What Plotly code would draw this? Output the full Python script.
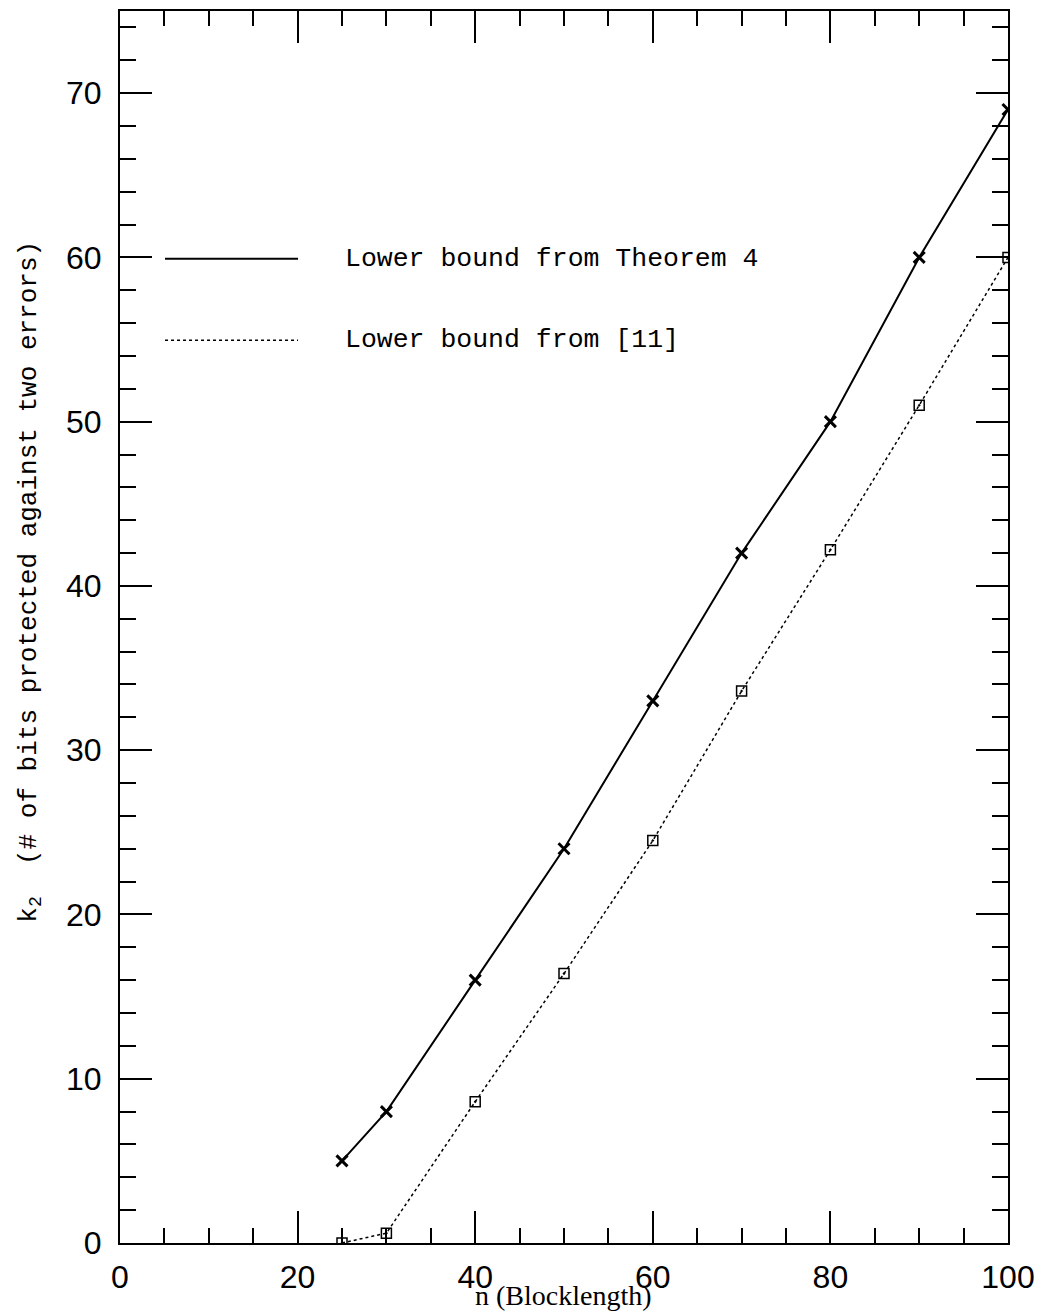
import plotly.graph_objects as go

# Data
n_vals = [25, 30, 40, 50, 60, 70, 80, 90, 100]
k2_theorem4 = [5, 8, 16, 24, 33, 42, 50, 60, 69]
k2_ref11 = [0, 0.6, 8.6, 16.4, 24.5, 33.6, 42.2, 51, 60]

x_tickvals = [0, 20, 40, 60, 80, 100]
y_tickvals = [0, 10, 20, 30, 40, 50, 60, 70]

legend_labels = ["Lower bound from Theorem 4", "Lower bound from [11]"]
x_title = "n&nbsp;(Blocklength)"
y_title = "k<sub>2</sub>&nbsp;&nbsp;(# of bits protected against two errors)"

fig = go.Figure()
fig.add_trace(go.Scatter(
    x=n_vals, y=k2_theorem4, mode="lines+markers",
    line=dict(color="black", width=2),
    marker=dict(symbol="x-thin-open", size=11, line=dict(color="black", width=3)),
    showlegend=False,
))
fig.add_trace(go.Scatter(
    x=n_vals, y=k2_ref11, mode="lines+markers",
    line=dict(color="black", width=1.5, dash="dot"),
    marker=dict(symbol="square-open-dot", size=10, color="black", line=dict(color="black", width=1.5)),
    showlegend=False,
))

# Legend drawn manually (long sample lines)
leg_x0, leg_x1, leg_tx = 0.0507, 0.2005, 0.251
leg_y = [0.799, 0.7328]
leg_dash = ["solid", "dot"]
leg_w = [2, 1.5]
for i, lab in enumerate(legend_labels):
    fig.add_shape(type="line", xref="paper", yref="paper",
                  x0=leg_x0, x1=leg_x1, y0=leg_y[i], y1=leg_y[i],
                  line=dict(color="black", width=leg_w[i], dash=leg_dash[i]))
    fig.add_annotation(xref="paper", yref="paper", x=leg_tx, y=leg_y[i],
                       text=lab, showarrow=False, xanchor="left", yanchor="middle",
                       font=dict(family="Liberation Mono", size=26.5, color="black"))

fig.add_annotation(xref="paper", yref="paper", x=0.499, y=-0.043,
                   text=x_title, showarrow=False, xanchor="center", yanchor="middle",
                   font=dict(family="Liberation Serif", size=28, color="black"))
fig.add_annotation(xref="paper", yref="paper", x=-0.101, y=0.537,
                   text=y_title, showarrow=False, textangle=-90,
                   xanchor="center", yanchor="middle",
                   font=dict(family="Liberation Mono", size=26, color="black"))

axis_common = dict(
    showgrid=False, zeroline=False, showline=True, linecolor="black", linewidth=2,
    mirror="ticks", ticks="inside", tickcolor="black", tickwidth=2, ticklen=32,
    tickfont=dict(family="Liberation Sans", size=32, color="black"),
)
fig.update_xaxes(range=[0, 100], tickvals=x_tickvals, ticklabelstandoff=5,
                 minor=dict(dtick=5, ticks="inside", ticklen=15, tickcolor="black", tickwidth=2),
                 **axis_common)
fig.update_yaxes(range=[0, 75], tickvals=y_tickvals, ticklabelstandoff=10,
                 minor=dict(dtick=2, ticks="inside", ticklen=16, tickcolor="black", tickwidth=2),
                 **axis_common)

fig.update_layout(
    width=1035, height=1306,
    margin=dict(l=112, r=35, t=1, b=71),
    plot_bgcolor="white", paper_bgcolor="white",
)

fig.write_html("out.html")
